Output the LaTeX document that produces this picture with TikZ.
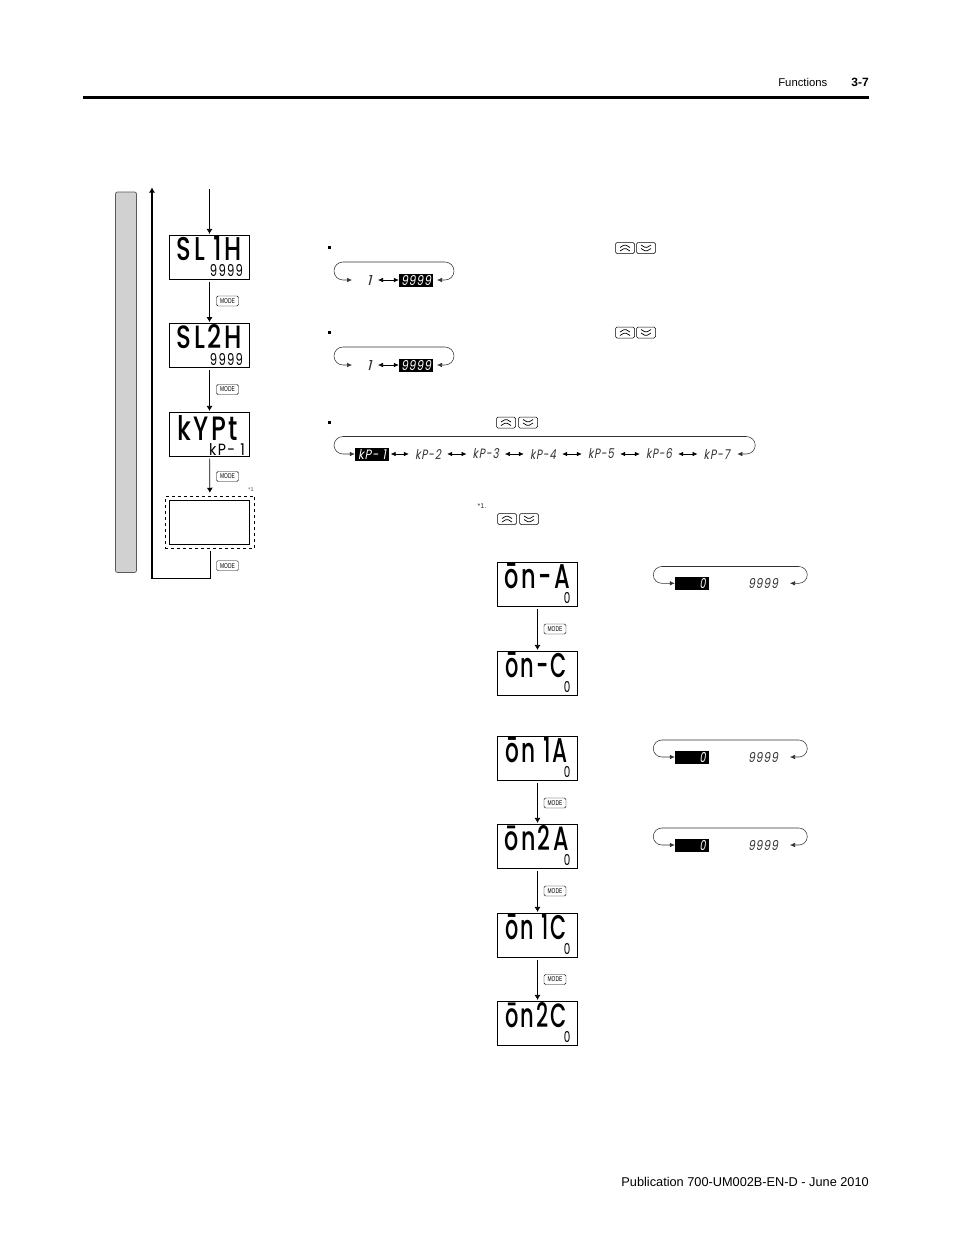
\documentclass[tikz,border=0pt]{standalone}
\usepackage{graphicx}
\usepackage{fontspec}
\setmainfont{Liberation Sans}
\newfontfamily\lcdfont[FakeStretch=.85,LetterSpace=9,BoldFont={Poppins Medium}]{Poppins}
\newfontfamily\lcdslant[FakeSlant=.22,LetterSpace=8]{Poppins}
\newfontfamily\condfont[FakeStretch=.7]{Liberation Sans}
\usetikzlibrary{arrows.meta}
\tikzset{
  lcdbox/.style={draw,inner sep=0pt,minimum width=80pt,minimum height=44pt,line width=.8pt},
  lcdbig/.style={inner sep=0pt,font=\lcdfont\bfseries},
  lcdsmall/.style={inner sep=0pt,font=\lcdfont},
  value/.style={inner sep=0pt,font=\lcdslant,text=black!80},
  valuehi/.style={fill=black,text=white,inner sep=0pt,minimum width=34pt,minimum height=13pt,font=\lcdslant},
  flow/.style={-{Latex[length=5pt,width=6pt]},line width=.7pt,shorten <=2pt,shorten >=1pt},
  back/.style={-{Latex[length=5pt,width=6pt]},line width=1.4pt},
  cycleline/.style={{Latex[length=5pt,width=4.5pt]}-{Latex[length=5pt,width=4.5pt]},line width=.55pt,rounded corners=9pt,black!80},
  swap/.style={{Latex[length=5pt,width=4.5pt]}-{Latex[length=5pt,width=4.5pt]},line width=.55pt},
  modekey/.style={draw,rounded corners=1.5pt,line width=.4pt,inner sep=0pt,minimum width=22pt,minimum height=10pt,font=\condfont\fontsize{7}{7}\selectfont},
  keybox/.style={draw,rounded corners=1.5pt,line width=.5pt,inner sep=0pt,minimum width=19pt,minimum height=11pt},
  upkey/.style={keybox,path picture={
    \draw[line width=.7pt] ([shift={(-5,-.5)}]path picture bounding box.center) -- ++(5,-3) -- ++(5,3);
    \draw[line width=.7pt] ([shift={(-5,3)}]path picture bounding box.center) -- ++(5,-3) -- ++(5,3);}},
  downkey/.style={keybox,path picture={
    \draw[line width=.7pt] ([shift={(-5,-3)}]path picture bounding box.center) -- ++(5,3) -- ++(5,-3);
    \draw[line width=.7pt] ([shift={(-5,.5)}]path picture bounding box.center) -- ++(5,3) -- ++(5,-3);}},
  dot/.style={fill,inner sep=0pt,minimum size=3pt}
}
\newcommand{\lcd}[3]{\resizebox{#1pt}{#2pt}{#3}}
\begin{document}
\begin{tikzpicture}[x=1pt,y=-1pt]
    \useasboundingbox (0,0) rectangle (954,1235);

    % Cabecera y pie
    \node[anchor=east,inner sep=0pt,font=\fontsize{11.3}{14}\selectfont] (headname) at (827.5,82) {Functions};
    \node[anchor=east,inner sep=0pt,font=\bfseries\fontsize{12}{14}\selectfont] (headpage) at (869,82) {3-7};
    \fill (83,96) rectangle (869,99);
    \node[anchor=east,inner sep=0pt,font=\fontsize{12.75}{14}\selectfont] (foot) at (869,1182) {Publication 700-UM002B-EN-D - June 2010};

    % Barra gris
    \draw[fill=black!18,draw=black!65,line width=.7pt,rounded corners=2pt] (115.5,192) rectangle (136.5,572.5);

    % Columna izquierda
    \coordinate (start) at (209.5,188.5);
    \node[lcdbox] (slone) at (209.5,257.3) {};
    \node[lcdbox] (sltwo) at (209.5,345.5) {};
    \node[lcdbox] (kypt) at (209.5,434.3) {};
    \node[lcdbox] (blank) at (209.5,522.3) {};
    \node[draw,dashed,line width=.6pt,inner sep=0pt,minimum width=89.5pt,minimum height=52.5pt] (outer) at (210,522.3) {};

    \node[lcdbig] (slonet) at (209.5,249) {\lcd{65}{24}{SL 1H}};
    \node[lcdsmall] (sloneval) at (226.5,271) {\lcd{33}{12}{9999}};
    \node[lcdbig] (sltwot) at (209.5,337) {\lcd{65}{24}{SL2H}};
    \node[lcdsmall] (sltwoval) at (226.5,359) {\lcd{33}{12}{9999}};
    \node[lcdbig] (kyptt) at (207.5,428) {\lcd{61}{25}{kYPt}};
    \node[lcdsmall] (kyptval) at (227,449) {\lcd{36}{12}{kP- 1}};

    \draw[flow,shorten <=0pt] (start) -- (slone);
    \draw[flow] (slone) -- (sltwo);
    \draw[flow] (sltwo) -- (kypt);
    \draw[flow,shorten >=3pt] (kypt) -- (outer);

    \node[modekey] (modea) at (227.5,301) {MODE};
    \node[modekey] (modeb) at (227.5,389.5) {MODE};
    \node[modekey] (modec) at (227.5,476.5) {MODE};
    \node[modekey] (moded) at (227.5,565.7) {MODE};
    \node[inner sep=0pt,font=\fontsize{5.5}{6}\selectfont,text=black!70] (noteb) at (251,489.5) {*1};

    % Retorno
    \coordinate (backb) at (152,578.5);
    \coordinate (backt) at (152,187.5);
    \draw[line width=1pt,shorten <=2pt] (outer.south) |- (backb);
    \draw[back] (backb) -- (backt);

    % Ciclo 1
    \node[dot] (dota) at (329,247.5) {};
    \node[upkey] (upa) at (625,248) {};
    \node[downkey] (downa) at (646,248) {};
    \node[value] (mina) at (369,280) {\lcd{5}{10}{1}};
    \node[valuehi] (maxa) at (416,280) {\lcd{30}{10}{9999}};
    \coordinate (inal) at (352,280);
    \coordinate (inar) at (437,280);
    \draw[swap] (378,280) -- (maxa);
    \draw[cycleline] (inar) -- ++(17,0) -- ++(0,-18) -- ++(-120,0) -- ++(0,18) -- (inal);

    % Ciclo 2
    \node[dot] (dotb) at (329,332) {};
    \node[upkey] (upb) at (625,332.5) {};
    \node[downkey] (downb) at (646,332.5) {};
    \node[value] (minb) at (369,365) {\lcd{5}{10}{1}};
    \node[valuehi] (maxb) at (416,365) {\lcd{30}{10}{9999}};
    \coordinate (inbl) at (352,365);
    \coordinate (inbr) at (437,365);
    \draw[swap] (378,365) -- (maxb);
    \draw[cycleline] (inbr) -- ++(17,0) -- ++(0,-18) -- ++(-120,0) -- ++(0,18) -- (inbl);

    % Ciclo 3
    \node[dot] (dotc) at (329,422.5) {};
    \node[upkey] (upc) at (506,422.5) {};
    \node[downkey] (downc) at (528,422.5) {};
    \node[valuehi] (kpa) at (372,454) {\lcd{28}{10}{kP- 1}};
    \node[value,minimum width=30pt] (kpb) at (428,454) {\lcd{26}{10}{kP-2}};
    \node[value,minimum width=30pt] (kpc) at (485.7,454) {\lcd{26}{10}{kP-3}};
    \node[value,minimum width=30pt] (kpd) at (543,454) {\lcd{26}{10}{kP-4}};
    \node[value,minimum width=30pt] (kpe) at (601,454) {\lcd{26}{10}{kP-5}};
    \node[value,minimum width=30pt] (kpf) at (659,454) {\lcd{26}{10}{kP-6}};
    \node[value,minimum width=30pt] (kpg) at (716.7,454) {\lcd{26}{10}{kP-7}};
    \coordinate (incr) at (737.3,454);
    \draw[swap,shorten <=1.5pt,shorten >=4pt] (kpa) -- (kpb);
    \draw[swap,shorten <=4pt,shorten >=4pt] (kpb) -- (kpc);
    \draw[swap,shorten <=4pt,shorten >=4pt] (kpc) -- (kpd);
    \draw[swap,shorten <=4pt,shorten >=4pt] (kpd) -- (kpe);
    \draw[swap,shorten <=4pt,shorten >=4pt] (kpe) -- (kpf);
    \draw[swap,shorten <=4pt,shorten >=4pt] (kpf) -- (kpg);
    \draw[cycleline] (incr) -- ++(18,0) -- ++(0,-17.5) -- (334,436.5) -- (334,454) -- (kpa);

    % Nota
    \node[inner sep=0pt,font=\fontsize{7}{8}\selectfont,text=black!80] (notea) at (482,506) {*1.};
    \node[upkey] (upd) at (507,519) {};
    \node[downkey] (downd) at (529,519) {};

    % Columna derecha
    \node[lcdbox] (ona) at (537.5,584.3) {};
    \node[lcdbox] (onc) at (537.5,673.3) {};
    \node[lcdbox] (onea) at (537.5,758.3) {};
    \node[lcdbox] (ontwoa) at (537.5,846.3) {};
    \node[lcdbox] (onec) at (537.5,935.3) {};
    \node[lcdbox] (ontwoc) at (537.5,1023.3) {};

    \node[lcdbig] (onat) at (537.5,576) {\lcd{65}{25}{ōn-A}};
    \node[lcdsmall] (onav) at (567,598) {\lcd{6.5}{11}{0}};
    \node[lcdbig] (onct) at (536,665) {\lcd{62}{25}{ōn-C}};
    \node[lcdsmall] (oncv) at (567,687) {\lcd{6.5}{11}{0}};
    \node[lcdbig] (oneat) at (536.5,750) {\lcd{63}{25}{ōn 1A}};
    \node[lcdsmall] (oneav) at (567,772) {\lcd{6.5}{11}{0}};
    \node[lcdbig] (ontwoat) at (536.5,838) {\lcd{64}{25}{ōn2A}};
    \node[lcdsmall] (ontwoav) at (567,860) {\lcd{6.5}{11}{0}};
    \node[lcdbig] (onect) at (536,927) {\lcd{62}{25}{ōn 1C}};
    \node[lcdsmall] (onecv) at (567,949) {\lcd{6.5}{11}{0}};
    \node[lcdbig] (ontwoct) at (536,1015) {\lcd{62}{25}{ōn2C}};
    \node[lcdsmall] (ontwocv) at (567,1037) {\lcd{6.5}{11}{0}};

    \draw[flow] (ona) -- (onc);
    \draw[flow] (onea) -- (ontwoa);
    \draw[flow] (ontwoa) -- (onec);
    \draw[flow] (onec) -- (ontwoc);

    \node[modekey] (modee) at (555,629) {MODE};
    \node[modekey] (modef) at (555,803) {MODE};
    \node[modekey] (modeg) at (555,891) {MODE};
    \node[modekey] (modeh) at (555,979.5) {MODE};

    % Ciclos de la derecha
    \node[valuehi] (zeroa) at (692,583.3) {\hspace*{21pt}\lcd{6}{10}{0}};
    \node[value] (nina) at (763,583.3) {\lcd{30}{10}{9999}};
    \coordinate (inda) at (790,583.3);
    \draw[cycleline,rounded corners=8.5pt] (inda) -- (807.3,583.3) -- (807.3,566.5) -- (653.3,566.5) -- (653.3,583.3) -- (zeroa);

    \node[valuehi] (zerob) at (692,757) {\hspace*{21pt}\lcd{6}{10}{0}};
    \node[value] (ninb) at (763,757) {\lcd{30}{10}{9999}};
    \coordinate (indb) at (790,757);
    \draw[cycleline,rounded corners=8.5pt] (indb) -- (807.3,757) -- (807.3,740) -- (653.3,740) -- (653.3,757) -- (zerob);

    \node[valuehi] (zeroc) at (692,845) {\hspace*{21pt}\lcd{6}{10}{0}};
    \node[value] (ninc) at (763,845) {\lcd{30}{10}{9999}};
    \coordinate (indc) at (790,845);
    \draw[cycleline,rounded corners=8.5pt] (indc) -- (807.3,845) -- (807.3,828) -- (653.3,828) -- (653.3,845) -- (zeroc);
\end{tikzpicture}
\end{document}
